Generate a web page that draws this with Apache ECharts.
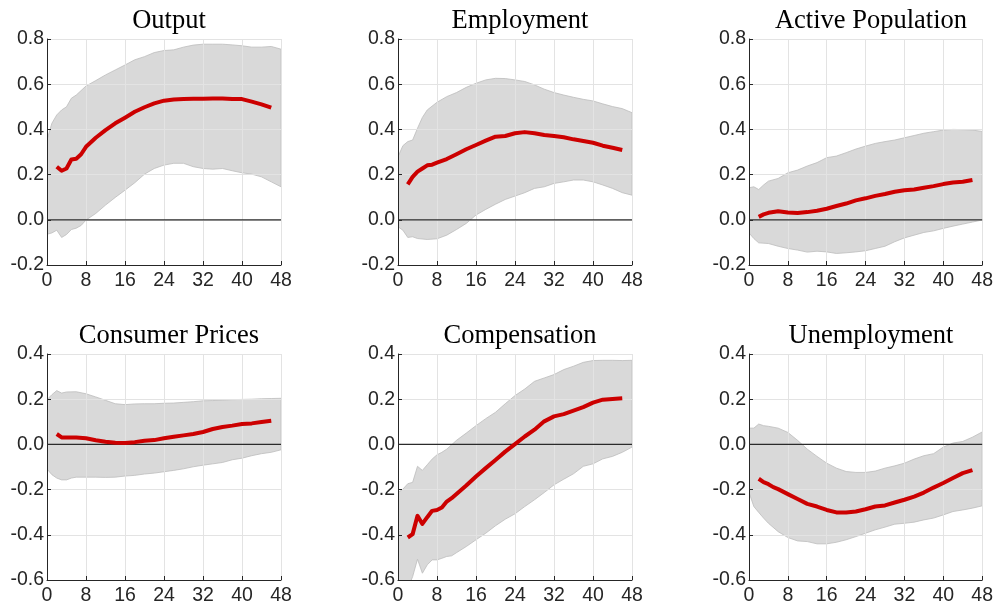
<!DOCTYPE html>
<html>
<head>
<meta charset="utf-8">
<script src="https://cdn.jsdelivr.net/npm/echarts@6/dist/echarts.min.js"></script>
<style>
  html, body { margin: 0; padding: 0; background: #fff; }
  #chart { width: 996px; height: 613px; }
</style>
</head>
<body>
<div id="chart"></div>
<script>
// panel titles
const titles = ['Output', 'Employment', 'Active Population', 'Consumer Prices', 'Compensation', 'Unemployment'];
const xTicks = [0, 8, 16, 24, 32, 40, 48];
const zeroLine = [[0, 0], [48, 0]];

// Output
const outputMid = [[2, 0.235], [3, 0.217], [4, 0.227], [5, 0.267], [6, 0.27], [7, 0.29], [8, 0.323], [10, 0.363], [12, 0.397], [14, 0.427], [16, 0.452], [18, 0.478], [20, 0.498], [22, 0.515], [24, 0.527], [26, 0.532], [28, 0.535], [30, 0.536], [32, 0.536], [34, 0.537], [36, 0.537], [38, 0.535], [40, 0.534], [42, 0.523], [44, 0.511], [46, 0.496]];
const outputUp = [[0, 0.353], [1, 0.427], [2, 0.464], [3, 0.486], [4, 0.5], [5, 0.538], [6, 0.552], [8, 0.592], [10, 0.616], [12, 0.641], [14, 0.663], [16, 0.685], [18, 0.708], [20, 0.722], [22, 0.74], [24, 0.749], [26, 0.752], [28, 0.764], [30, 0.773], [32, 0.777], [34, 0.777], [36, 0.777], [38, 0.774], [40, 0.77], [42, 0.764], [44, 0.764], [46, 0.767], [48, 0.755]];
const outputLo = [[0, -0.064], [1, -0.058], [2, -0.046], [3, -0.078], [4, -0.065], [5, -0.043], [6, -0.037], [7, -0.025], [8, -0.001], [10, 0.028], [12, 0.065], [14, 0.099], [16, 0.131], [18, 0.164], [20, 0.202], [22, 0.227], [24, 0.242], [26, 0.25], [28, 0.25], [30, 0.235], [32, 0.227], [34, 0.224], [36, 0.227], [38, 0.217], [40, 0.208], [42, 0.202], [44, 0.19], [46, 0.168], [48, 0.146]];

// Employment
const emplMid = [[2, 0.157], [3, 0.19], [4, 0.213], [5, 0.227], [6, 0.241], [7, 0.244], [8, 0.253], [10, 0.269], [12, 0.29], [14, 0.312], [16, 0.331], [18, 0.35], [20, 0.368], [22, 0.371], [24, 0.383], [26, 0.388], [28, 0.383], [30, 0.375], [32, 0.371], [34, 0.365], [36, 0.356], [38, 0.349], [40, 0.341], [42, 0.328], [44, 0.319], [46, 0.309]];
const emplUp = [[0, 0.279], [1, 0.328], [2, 0.346], [3, 0.353], [4, 0.405], [5, 0.453], [6, 0.486], [8, 0.52], [10, 0.545], [12, 0.563], [14, 0.586], [16, 0.604], [18, 0.619], [20, 0.626], [22, 0.625], [24, 0.619], [26, 0.612], [28, 0.597], [30, 0.578], [32, 0.563], [34, 0.552], [36, 0.542], [38, 0.533], [40, 0.526], [42, 0.513], [44, 0.501], [46, 0.492], [48, 0.474]];
const emplLo = [[0, -0.031], [1, -0.046], [2, -0.078], [3, -0.075], [4, -0.083], [6, -0.087], [8, -0.084], [10, -0.068], [12, -0.043], [14, -0.016], [16, 0.021], [18, 0.046], [20, 0.069], [22, 0.09], [24, 0.105], [26, 0.12], [28, 0.139], [30, 0.146], [32, 0.161], [34, 0.168], [36, 0.176], [38, 0.176], [40, 0.168], [42, 0.154], [44, 0.139], [46, 0.12], [48, 0.109]];

// Active Population
const actMid = [[2, 0.013], [3, 0.024], [4, 0.031], [6, 0.038], [8, 0.032], [10, 0.03], [12, 0.034], [14, 0.04], [16, 0.049], [18, 0.061], [20, 0.072], [22, 0.086], [24, 0.095], [26, 0.106], [28, 0.114], [30, 0.124], [32, 0.131], [34, 0.134], [36, 0.142], [38, 0.149], [40, 0.158], [42, 0.165], [44, 0.168], [46, 0.176]];
const actUp = [[0, 0.142], [1, 0.146], [2, 0.134], [3, 0.154], [4, 0.171], [6, 0.183], [8, 0.208], [10, 0.22], [12, 0.238], [14, 0.253], [16, 0.275], [18, 0.282], [20, 0.297], [22, 0.313], [24, 0.326], [26, 0.338], [28, 0.346], [30, 0.353], [32, 0.363], [34, 0.373], [36, 0.383], [38, 0.39], [40, 0.397], [42, 0.4], [44, 0.399], [46, 0.397], [48, 0.391]];
const actLo = [[0, -0.058], [1, -0.083], [2, -0.102], [4, -0.105], [6, -0.117], [8, -0.127], [10, -0.134], [12, -0.143], [14, -0.139], [16, -0.142], [18, -0.149], [20, -0.146], [22, -0.142], [24, -0.137], [26, -0.127], [28, -0.117], [30, -0.097], [32, -0.08], [34, -0.068], [36, -0.056], [38, -0.049], [40, -0.038], [42, -0.028], [44, -0.019], [46, -0.01], [48, -0.001]];

// Consumer Prices
const cpiMid = [[2, 0.046], [3, 0.031], [4, 0.03], [6, 0.03], [8, 0.027], [10, 0.018], [12, 0.012], [14, 0.007], [16, 0.006], [18, 0.01], [20, 0.016], [22, 0.019], [24, 0.027], [26, 0.034], [28, 0.04], [30, 0.046], [32, 0.055], [34, 0.068], [36, 0.077], [38, 0.083], [40, 0.09], [42, 0.093], [44, 0.099], [46, 0.105]];
const cpiUp = [[0, 0.198], [1, 0.22], [2, 0.238], [3, 0.227], [4, 0.232], [6, 0.233], [8, 0.224], [10, 0.21], [12, 0.195], [14, 0.18], [16, 0.176], [18, 0.179], [20, 0.18], [22, 0.18], [24, 0.182], [26, 0.183], [28, 0.186], [30, 0.189], [32, 0.193], [34, 0.194], [36, 0.196], [38, 0.198], [40, 0.199], [42, 0.2], [44, 0.202], [46, 0.203], [48, 0.204]];
const cpiLo = [[0, -0.109], [1, -0.134], [2, -0.149], [3, -0.157], [4, -0.157], [5, -0.149], [6, -0.145], [8, -0.145], [10, -0.145], [12, -0.146], [14, -0.145], [16, -0.14], [18, -0.137], [20, -0.131], [22, -0.127], [24, -0.121], [26, -0.115], [28, -0.108], [30, -0.099], [32, -0.092], [34, -0.086], [36, -0.08], [38, -0.068], [40, -0.061], [42, -0.05], [44, -0.041], [46, -0.035], [48, -0.024]];

// Compensation
const compMid = [[2, -0.412], [3, -0.397], [4, -0.316], [5, -0.352], [6, -0.322], [7, -0.294], [8, -0.29], [9, -0.279], [10, -0.253], [11, -0.238], [12, -0.219], [14, -0.182], [16, -0.142], [18, -0.105], [20, -0.069], [22, -0.032], [24, 0.001], [26, 0.035], [28, 0.065], [30, 0.102], [32, 0.124], [34, 0.134], [36, 0.149], [38, 0.165], [40, 0.185], [42, 0.198], [44, 0.201], [46, 0.204]];
const compUp = [[0, -0.213], [1, -0.198], [2, -0.174], [3, -0.168], [4, -0.097], [5, -0.115], [6, -0.09], [7, -0.065], [8, -0.046], [9, -0.035], [10, -0.021], [12, 0.018], [14, 0.05], [16, 0.083], [18, 0.114], [20, 0.142], [22, 0.18], [24, 0.216], [26, 0.245], [28, 0.279], [30, 0.294], [32, 0.309], [34, 0.331], [36, 0.346], [38, 0.363], [40, 0.371], [42, 0.372], [44, 0.372], [46, 0.371], [48, 0.372]];
const compLo = [[0, -0.68], [1, -0.66], [2, -0.64], [3, -0.585], [4, -0.508], [5, -0.57], [6, -0.533], [7, -0.511], [8, -0.511], [9, -0.504], [10, -0.496], [11, -0.493], [12, -0.479], [14, -0.452], [16, -0.422], [18, -0.393], [20, -0.36], [22, -0.331], [24, -0.307], [26, -0.275], [28, -0.245], [30, -0.213], [32, -0.179], [34, -0.154], [36, -0.13], [38, -0.097], [40, -0.086], [42, -0.064], [44, -0.053], [46, -0.035], [48, -0.012]];

// Unemployment
const unempMid = [[2, -0.152], [3, -0.167], [4, -0.176], [5, -0.189], [6, -0.198], [8, -0.22], [10, -0.242], [12, -0.263], [14, -0.275], [16, -0.29], [18, -0.301], [20, -0.301], [22, -0.297], [24, -0.287], [26, -0.275], [28, -0.27], [30, -0.257], [32, -0.245], [34, -0.231], [36, -0.213], [38, -0.191], [40, -0.171], [42, -0.149], [44, -0.127], [46, -0.114]];
const unempUp = [[0, 0.072], [1, 0.072], [2, 0.09], [3, 0.083], [4, 0.08], [6, 0.072], [8, 0.053], [10, 0.018], [12, -0.021], [14, -0.053], [16, -0.083], [18, -0.105], [20, -0.12], [22, -0.124], [24, -0.124], [26, -0.118], [28, -0.105], [30, -0.095], [32, -0.083], [34, -0.065], [36, -0.05], [38, -0.041], [40, -0.012], [42, 0.006], [44, 0.013], [46, 0.032], [48, 0.055]];
const unempLo = [[0, -0.213], [1, -0.275], [2, -0.301], [3, -0.326], [4, -0.349], [6, -0.386], [8, -0.412], [10, -0.427], [12, -0.43], [14, -0.44], [16, -0.44], [18, -0.433], [20, -0.422], [22, -0.408], [24, -0.393], [26, -0.378], [28, -0.366], [30, -0.353], [32, -0.349], [34, -0.344], [36, -0.334], [38, -0.326], [40, -0.312], [42, -0.297], [44, -0.29], [46, -0.282], [48, -0.272]];

const mids = [outputMid, emplMid, actMid, cpiMid, compMid, unempMid];
const ups = [outputUp, emplUp, actUp, cpiUp, compUp, unempUp];
const los = [outputLo, emplLo, actLo, cpiLo, compLo, unempLo];
const yRanges = [[-0.2, 0.8], [-0.2, 0.8], [-0.2, 0.8], [-0.6, 0.4], [-0.6, 0.4], [-0.6, 0.4]];

const colLeft = [47, 398, 749];
const rowTop = [39, 354];
const plotW = 234;
const plotH = 226;

const axisColor = '#262626';
const gridColor = '#e3e3e3';
const labelFont = { fontFamily: 'Liberation Sans', fontSize: 19.5, color: axisColor };

const grids = [];
const xAxes = [];
const yAxes = [];
const series = [];
const titleList = [];

titles.forEach((name, i) => {
  const col = i % 3;
  const row = Math.floor(i / 3);
  grids.push({ left: colLeft[col], top: rowTop[row], width: plotW, height: plotH });
  titleList.push({
    text: name,
    left: colLeft[col] + plotW / 2,
    top: row === 0 ? 3 : 318,
    textAlign: 'center',
    textStyle: { fontFamily: 'Liberation Serif', fontSize: 26.5, fontWeight: 'normal', color: '#000' }
  });
  xAxes.push({
    type: 'value',
    gridIndex: i,
    min: 0,
    max: 48,
    interval: 8,
    axisLine: { show: true, onZero: false, lineStyle: { color: axisColor, width: 1 } },
    axisTick: { show: true, inside: true, length: 4, lineStyle: { color: axisColor } },
    axisLabel: Object.assign({ margin: 6, formatter: v => (xTicks.includes(v) ? String(v) : '') }, labelFont),
    splitLine: { show: true, lineStyle: { color: gridColor, width: 1 } }
  });
  yAxes.push({
    type: 'value',
    gridIndex: i,
    min: yRanges[i][0],
    max: yRanges[i][1],
    interval: 0.2,
    axisLine: { show: true, onZero: false, lineStyle: { color: axisColor, width: 1 } },
    axisTick: { show: true, inside: true, length: 4, lineStyle: { color: axisColor } },
    axisLabel: Object.assign({ margin: 3, formatter: v => v.toFixed(1) }, labelFont),
    splitLine: { show: true, lineStyle: { color: gridColor, width: 1 } }
  });

  const upper = ups[i];
  const lower = los[i];
  series.push({
    type: 'custom',
    xAxisIndex: i,
    yAxisIndex: i,
    z: -1,
    clip: true,
    silent: true,
    data: [[0, 0]],
    renderItem(params, api) {
      const pts = upper.map(p => api.coord(p)).concat(lower.slice().reverse().map(p => api.coord(p)));
      const cs = params.coordSys;
      return {
        type: 'group',
        children: [{
          type: 'polygon',
          shape: { points: pts },
          style: { fill: '#d9d9d9', stroke: '#bdbdbd', lineWidth: 0.8 }
        }],
        clipPath: { type: 'rect', shape: { x: cs.x, y: cs.y, width: cs.width, height: cs.height } }
      };
    }
  });
  series.push({
    type: 'line',
    xAxisIndex: i,
    yAxisIndex: i,
    data: zeroLine,
    showSymbol: false,
    silent: true,
    z: 3,
    lineStyle: { color: '#2b2b2b', width: 1.3 }
  });
  series.push({
    type: 'line',
    xAxisIndex: i,
    yAxisIndex: i,
    data: mids[i],
    showSymbol: false,
    silent: true,
    z: 4,
    lineStyle: { color: '#cc0000', width: 4, join: 'round' }
  });
});

const myChart = echarts.init(document.getElementById('chart'), null, { renderer: 'canvas' });
myChart.setOption({
  backgroundColor: '#ffffff',
  animation: false,
  title: titleList,
  grid: grids,
  xAxis: xAxes,
  yAxis: yAxes,
  series: series
});
</script>
</body>
</html>
